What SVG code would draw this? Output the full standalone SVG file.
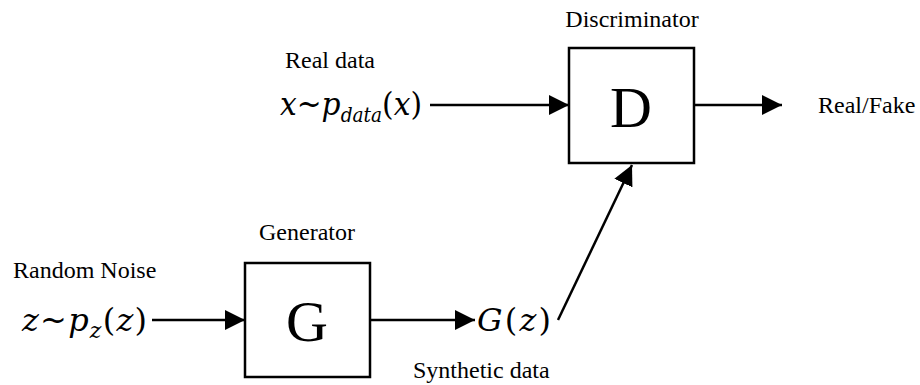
<svg xmlns="http://www.w3.org/2000/svg" width="920" height="385" viewBox="0 0 920 385">
  <style>
    .box { fill: #ffffff; stroke: #000000; stroke-width: 2.5; }
    .lbl { font-family: "Liberation Serif", "Times New Roman", serif; font-size: 24px; fill: #000000; }
    .big { font-family: "Liberation Serif", "Times New Roman", serif; font-size: 58px; fill: #000000; text-anchor: middle; }
    .math { font-family: "DejaVu Serif", "Liberation Serif", serif; font-style: italic; font-size: 32px; fill: #000000; }
    .up { font-style: normal; }
    .wire { stroke: #000000; stroke-width: 2.5; fill: none; marker-end: url(#head); }
  </style>
  <defs>
    <marker id="head" markerUnits="userSpaceOnUse" markerWidth="20" markerHeight="20" viewBox="0 0 18 18" refX="18" refY="9" orient="auto">
      <polygon points="0,0 18,9 0,18" fill="#000000"/>
    </marker>
  </defs>
  <rect width="920" height="385" fill="#ffffff"/>

  <!-- connectors -->
  <g id="connectors">
    <line class="wire" x1="430" y1="105" x2="569" y2="105"/>
    <line class="wire" x1="694" y1="105" x2="782" y2="105"/>
    <line class="wire" x1="152" y1="320" x2="245" y2="320"/>
    <line class="wire" x1="370" y1="320" x2="475" y2="320"/>
    <line class="wire" x1="558" y1="320" x2="632" y2="165"/>
  </g>

  <!-- discriminator -->
  <g id="discriminator">
    <rect class="box" x="569" y="48" width="125" height="115"/>
    <text class="big" x="631" y="127">D</text>
    <text class="lbl" x="632" y="27" text-anchor="middle">Discriminator</text>
  </g>

  <!-- generator -->
  <g id="generator">
    <rect class="box" x="245" y="263" width="125" height="114"/>
    <text class="big" x="307" y="341">G</text>
    <text class="lbl" x="307" y="240" text-anchor="middle">Generator</text>
  </g>

  <!-- real data input -->
  <g id="real-data">
    <text class="lbl" x="285" y="68">Real data</text>
    <text class="math" x="280" y="115" textLength="142" lengthAdjust="spacingAndGlyphs">x<tspan class="up">~</tspan>p<tspan font-size="20" dy="7">data</tspan><tspan class="up" dy="-7">(</tspan>x<tspan class="up">)</tspan></text>
  </g>

  <!-- noise input -->
  <g id="noise">
    <text class="lbl" x="13" y="278">Random Noise</text>
    <text class="math" x="22" y="331" textLength="125" lengthAdjust="spacing">z<tspan class="up">~</tspan>p<tspan font-size="22" dy="7">z</tspan><tspan class="up" dy="-7">(</tspan>z<tspan class="up">)</tspan></text>
  </g>

  <!-- generated sample -->
  <g id="synthetic">
    <text class="math" x="477" y="331" textLength="74" lengthAdjust="spacing">G<tspan class="up">(</tspan>z<tspan class="up">)</tspan></text>
    <text class="lbl" x="413" y="378">Synthetic data</text>
  </g>

  <!-- output -->
  <g id="output">
    <text class="lbl" x="818" y="113">Real/Fake</text>
  </g>
</svg>
